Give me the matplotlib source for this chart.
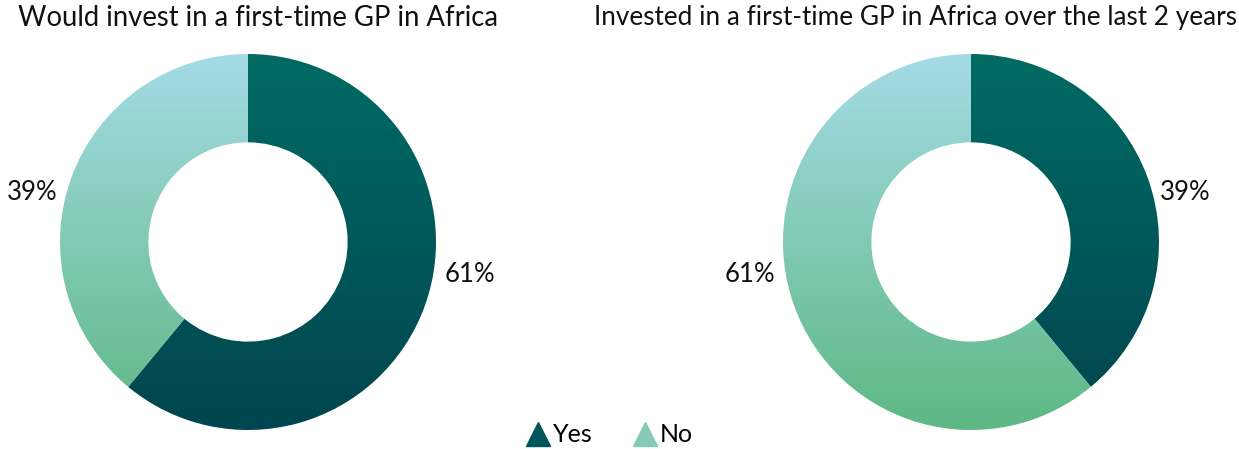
import numpy as np
import matplotlib
matplotlib.use("Agg")
import matplotlib.pyplot as plt
from matplotlib.colors import LinearSegmentedColormap
from matplotlib.lines import Line2D

plt.rcParams["font.family"] = ["Lato", "DejaVu Sans"]

# Survey results
categories = ["Yes", "No"]
would_invest = [61, 39]
invested_last_2y = [39, 61]
titles = ["Would invest in a first-time GP in Africa",
          "Invested in a first-time GP in Africa over the last 2 years"]

# Vertical gradients (top colour, bottom colour) for each category
gradients = {
    "Yes": ("#006b63", "#00454f"),
    "No": ("#a5dbe6", "#5db883"),
}

W, H = 1239, 449
fig = plt.figure(figsize=(W / 100, H / 100), dpi=100)
ax = fig.add_axes([0, 0, 1, 1])
ax.set_xlim(0, W)
ax.set_ylim(0, H)
ax.set_aspect("equal")
ax.axis("off")

R_OUT = 188
WIDTH = 0.47


def gradient_donut(values, cx, cy):
    wedges, _ = ax.pie(values, center=(cx, cy), radius=R_OUT, startangle=90,
                       counterclock=False,
                       wedgeprops=dict(width=R_OUT * WIDTH, linewidth=0),
                       frame=True)
    grad = np.linspace(1, 0, 256).reshape(-1, 1)
    for w, cat in zip(wedges, categories):
        w.set_facecolor("none")
        top, bottom = gradients[cat]
        cmap = LinearSegmentedColormap.from_list(cat, [bottom, top])
        im = ax.imshow(grad, cmap=cmap, aspect="auto",
                       extent=(cx - R_OUT, cx + R_OUT, cy - R_OUT, cy + R_OUT),
                       origin="upper", zorder=1)
        im.set_clip_path(w)
    return wedges


cy = H - 242
gradient_donut(would_invest, 248, cy)
gradient_donut(invested_last_2y, 971, cy)
ax.set_xlim(0, W)
ax.set_ylim(0, H)
ax.axis("off")

# Titles
ax.text(18, H - 18, titles[0], fontsize=19.8, ha="left", va="center", color="#111111")
ax.text(1237, H - 18, titles[1], fontsize=18.8, ha="right", va="center", color="#111111")

# Percentage labels
lab = dict(fontsize=18.5, va="center", color="#111111")
ax.text(32, H - 192, f"{would_invest[1]}%", ha="center", **lab)
ax.text(470, H - 274, f"{would_invest[0]}%", ha="center", **lab)
ax.text(1185, H - 192, f"{invested_last_2y[0]}%", ha="center", **lab)
ax.text(750, H - 274, f"{invested_last_2y[1]}%", ha="center", **lab)

# Legend
handles = [Line2D([], [], marker="^", linestyle="none", markersize=17,
                  markerfacecolor=c, markeredgecolor=c)
           for c in ("#00555a", "#86c9b6")]
ax.legend(handles, categories, loc="center", bbox_to_anchor=(609 / W, 14 / H),
          ncol=2, frameon=False, fontsize=18, handletextpad=0.1,
          columnspacing=1.6, handlelength=1.0)

fig.savefig("out.png", dpi=100)
